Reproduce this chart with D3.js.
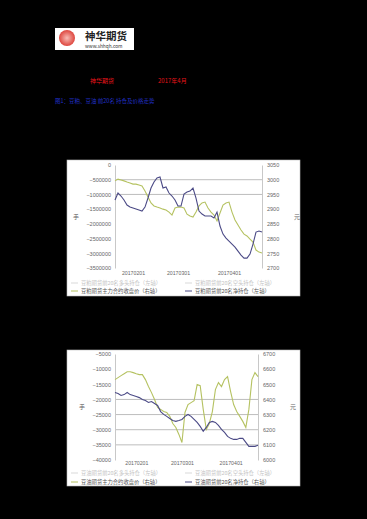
<!DOCTYPE html>
<html>
<head>
<meta charset="utf-8">
<script src="https://cdn.jsdelivr.net/npm/d3@7"></script>
<style>
  body { margin: 0; background: #000; }
  svg { display: block; font-family: "Noto Sans CJK SC", "Noto Sans", sans-serif; }
  .tick text { fill: #666; }
</style>
</head>
<body>
<div class="chart"></div>
<script>
// ---- chart 1 data (soymeal) ----
var c1Price = [2996, 3002, 2999, 2996, 2992, 2989, 2985, 2985, 2982, 2979,
  2962, 2941, 2921, 2911, 2907, 2904, 2900, 2897, 2890, 2880,
  2904, 2907, 2907, 2904, 2883, 2877, 2873, 2890, 2911, 2921,
  2924, 2904, 2890, 2880, 2860, 2887, 2914, 2921, 2924, 2890,
  2863, 2846, 2829, 2815, 2809, 2798, 2788, 2761, 2754, 2751];
var c1Net = [-1190000, -952000, -1054000, -1190000, -1361000, -1429000, -1463000, -1497000, -1531000, -1565000,
  -1429000, -1122000, -782000, -578000, -442000, -408000, -782000, -748000, -952000, -1054000,
  -1190000, -1395000, -1395000, -986000, -918000, -884000, -782000, -1122000, -1565000, -1667000,
  -1735000, -1735000, -1735000, -1803000, -1599000, -2075000, -2347000, -2483000, -2585000, -2687000,
  -2789000, -2925000, -3061000, -3163000, -3163000, -3027000, -2687000, -2279000, -2245000, -2279000];
var c1LeftTicks = [0, -500000, -1000000, -1500000, -2000000, -2500000, -3000000, -3500000];
var c1RightTicks = [3050, 3000, 2950, 2900, 2850, 2800, 2750, 2700];
var c1Grid = [-500000, -1000000];
var c1DateLabels = ["20170201", "20170301", "20170401"];
var c1DateIdx = [6, 21, 38];
var c1Legend = ["豆粕期货前20名多头持仓（左轴）", "豆粕期货前20名空头持仓（左轴）",
  "豆粕期货主力合约收盘价（右轴）", "豆粕期货前20名净持仓（左轴）"];

// ---- chart 2 data (soybean oil) ----
var c2Price = [6531, 6544, 6557, 6570, 6583, 6583, 6577, 6570, 6564, 6564,
  6531, 6485, 6445, 6399, 6347, 6334, 6320, 6314, 6288, 6241,
  6215, 6169, 6116, 6314, 6366, 6379, 6392, 6498, 6491, 6334,
  6202, 6241, 6320, 6465, 6511, 6485, 6531, 6551, 6452, 6366,
  6320, 6288, 6255, 6215, 6334, 6531, 6577, 6551];
var c2Net = [-17700, -18050, -18700, -18400, -17700, -18400, -18700, -19050, -19400, -20050,
  -20350, -21000, -20700, -21350, -22000, -24000, -24950, -25600, -26300, -26950,
  -27250, -26950, -26600, -25600, -24950, -25600, -26600, -27600, -28900, -30550,
  -29250, -27600, -27250, -27600, -28600, -29900, -30900, -32200, -32850, -33200,
  -33200, -32850, -32850, -34200, -35500, -35500, -35500, -35150];
var c2LeftTicks = [-5000, -10000, -15000, -20000, -25000, -30000, -35000, -40000];
var c2RightTicks = [6700, 6600, 6500, 6400, 6300, 6200, 6100, 6000];
var c2Grid = [-20000, -25000, -30000, -35000];
var c2DateLabels = ["20170201", "20170301", "20170401"];
var c2DateIdx = [7, 22, 38];
var c2Legend = ["豆油期货前20名多头持仓（左轴）", "豆油期货前20名空头持仓（左轴）",
  "豆油期货主力合约收盘价（右轴）", "豆油期货前20名净持仓（右轴）"];

var W = 367, H = 519;
var svg = d3.select(".chart").append("svg")
  .attr("width", W)
  .attr("height", H);

svg.append("rect").attr("width", W).attr("height", H).attr("fill", "#000");

// header / logo
var logo = svg.append("g");
logo.append("rect").attr("x", 55).attr("y", 28).attr("width", 79).attr("height", 22).attr("fill", "#fff");
var grad = svg.append("defs").append("radialGradient").attr("id", "lg");
grad.append("stop").attr("offset", "0%").attr("stop-color", "#f7b0a8");
grad.append("stop").attr("offset", "100%").attr("stop-color", "#d8251c");
logo.append("circle").attr("cx", 67).attr("cy", 38).attr("r", 8).attr("fill", "url(#lg)").attr("opacity", 0.85);
logo.append("text").attr("x", 85).attr("y", 40).attr("font-size", "10.5px").attr("font-weight", "bold")
  .attr("fill", "#222").text("神华期货");
logo.append("text").attr("x", 85).attr("y", 48).attr("font-size", "4.8px")
  .attr("fill", "#333").text("www.shhqh.com");

svg.append("text").attr("x", 90).attr("y", 83).attr("font-size", "6px").attr("fill", "#e8141a").text("神华期货");
svg.append("text").attr("x", 158).attr("y", 83).attr("font-size", "6px").attr("fill", "#e8141a").text("2017年4月");
svg.append("text").attr("x", 55).attr("y", 103).attr("font-size", "5.5px").attr("fill", "#2030c8")
  .text("图1：豆粕、豆油 前20名 持仓及价格走势");

function drawChart(cfg) {
  var g = svg.append("g");
  g.append("rect").attr("x", cfg.box[0]).attr("y", cfg.box[1])
    .attr("width", cfg.box[2]).attr("height", cfg.box[3])
    .attr("fill", "#fff").attr("stroke", "#bbb").attr("stroke-width", 0.6);

  var x = d3.scaleLinear().domain([0, cfg.price.length - 1]).range([cfg.left, cfg.right]);
  var yL = d3.scaleLinear().domain([cfg.lTicks[cfg.lTicks.length - 1], cfg.lTicks[0]]).range([cfg.bottom, cfg.top]);
  var yR = d3.scaleLinear().domain([cfg.rTicks[cfg.rTicks.length - 1], cfg.rTicks[0]]).range([cfg.bottom, cfg.top]);

  // gridlines
  g.selectAll(".grid").data(cfg.grid).enter().append("line")
    .attr("x1", cfg.left).attr("x2", cfg.right)
    .attr("y1", function(d) { return yL(d); })
    .attr("y2", function(d) { return yL(d); })
    .attr("stroke", "#bdbdbd").attr("stroke-width", 1);

  // axes
  var la = g.append("g").attr("transform", "translate(" + cfg.left + ",0)")
    .call(d3.axisLeft(yL).tickValues(cfg.lTicks).tickSize(0).tickPadding(4).tickFormat(d3.format("d")));
  la.select(".domain").attr("stroke", "#c8c8c8");
  la.selectAll("text").attr("font-size", "5.5px");

  var ra = g.append("g").attr("transform", "translate(" + cfg.right + ",0)")
    .call(d3.axisRight(yR).tickValues(cfg.rTicks).tickSize(0).tickPadding(5).tickFormat(d3.format("d")));
  ra.select(".domain").attr("stroke", "#c8c8c8");
  ra.selectAll("text").attr("font-size", "5.5px");

  var ba = g.append("g").attr("transform", "translate(0," + cfg.bottom + ")")
    .call(d3.axisBottom(x).tickValues(cfg.dateIdx).tickSize(0).tickPadding(cfg.xPad)
      .tickFormat(function(d, i) { return cfg.dates[i]; }));
  ba.select(".domain").remove();
  ba.selectAll("text").attr("font-size", "5.2px");

  // axis units
  g.append("text").attr("x", cfg.unitX[0]).attr("y", (cfg.top + cfg.bottom) / 2 + 2)
    .attr("font-size", "6px").attr("fill", "#666").attr("text-anchor", "middle").text("手");
  g.append("text").attr("x", cfg.unitX[1]).attr("y", (cfg.top + cfg.bottom) / 2 + 2)
    .attr("font-size", "6px").attr("fill", "#666").attr("text-anchor", "middle").text("元");

  // lines
  g.append("path").datum(cfg.price)
    .attr("fill", "none").attr("stroke", "#b5c261").attr("stroke-width", 1.1)
    .attr("d", d3.line().x(function(d, i) { return x(i); }).y(function(d) { return yR(d); }));
  g.append("path").datum(cfg.net)
    .attr("fill", "none").attr("stroke", "#4b4a86").attr("stroke-width", 1.1)
    .attr("d", d3.line().x(function(d, i) { return x(i); }).y(function(d) { return yL(d); }));

  // legend
  var ly1 = cfg.legendY[0], ly2 = cfg.legendY[1];
  var items = [
    { x: cfg.box[0] + 4, y: ly1, c: "#d9d9d9", t: cfg.legend[0] },
    { x: cfg.box[0] + 118, y: ly1, c: "#d9d9d9", t: cfg.legend[1] },
    { x: cfg.box[0] + 4, y: ly2, c: "#b5c261", t: cfg.legend[2] },
    { x: cfg.box[0] + 118, y: ly2, c: "#4b4a86", t: cfg.legend[3] }
  ];
  var lg = g.selectAll(".lg").data(items).enter().append("g");
  lg.append("line")
    .attr("x1", function(d) { return d.x; }).attr("x2", function(d) { return d.x + 7; })
    .attr("y1", function(d) { return d.y - 2; }).attr("y2", function(d) { return d.y - 2; })
    .attr("stroke", function(d) { return d.c; }).attr("stroke-width", 1);
  lg.append("text")
    .attr("x", function(d) { return d.x + 10; }).attr("y", function(d) { return d.y; })
    .attr("font-size", "5.3px")
    .attr("fill", function(d, i) { return i < 2 ? "#c4c4c4" : "#555"; })
    .text(function(d) { return d.t; });
}

drawChart({
  box: [67, 160, 233, 136], left: 115, right: 262, top: 165, bottom: 268, xPad: 3,
  price: c1Price, net: c1Net, lTicks: c1LeftTicks, rTicks: c1RightTicks, grid: c1Grid,
  dates: c1DateLabels, dateIdx: c1DateIdx, legend: c1Legend, legendY: [285, 293], unitX: [76, 297]
});

drawChart({
  box: [67, 350, 233, 136], left: 115, right: 258, top: 354, bottom: 460, xPad: 1,
  price: c2Price, net: c2Net, lTicks: c2LeftTicks, rTicks: c2RightTicks, grid: c2Grid,
  dates: c2DateLabels, dateIdx: c2DateIdx, legend: c2Legend, legendY: [475, 484], unitX: [82, 293]
});
</script>
</body>
</html>
